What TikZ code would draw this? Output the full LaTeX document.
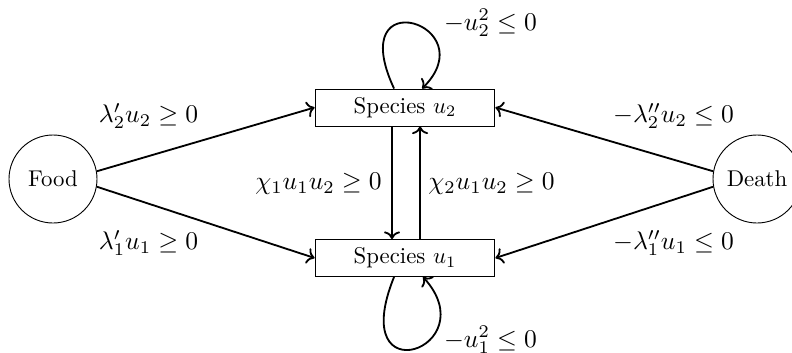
\documentclass[tikz,border=0pt]{standalone}
\usetikzlibrary{arrows.meta}
\begin{document}
\begin{tikzpicture}[x=0.4386pt,y=-0.4386pt,
  state/.style={draw,circle,minimum size=38.6pt,inner sep=0pt},
  species/.style={draw,rectangle,minimum width=78.9pt,minimum height=16.2pt,inner sep=0pt},
  flow/.style={->,thick},
  lbl/.style={inner sep=0pt,scale=1.12}]
\useasboundingbox (0,0) rectangle (792,352);
\node[state] (food) at (53,179) {Food};
\node[state] (death) at (757,179) {Death};
\node[species] (u2) at (405,107.5) {Species $u_2$};
\node[species] (u1) at (405,258) {Species $u_1$};
\draw[flow] (food.10) -- (u2.west);
\draw[flow] (food.-10) -- (u1.west);
\draw[flow] (death.170) -- (u2.east);
\draw[flow] (death.190) -- (u1.east);
\draw[flow] ([xshift=-5.7pt]u2.south) -- ([xshift=-5.7pt]u1.north);
\draw[flow] ([xshift=6.6pt]u1.north) -- ([xshift=6.6pt]u2.south);
\draw[flow] ([xshift=-4.8pt]u2.north) to[out=115,in=45,out distance=52.8pt,in distance=39.8pt] ([xshift=7.5pt]u2.north);
\draw[flow] ([xshift=-4.8pt]u1.south) to[out=-112,in=-48,out distance=57pt,in distance=42pt] ([xshift=7.9pt]u1.south);
\node[lbl] (l1) at (148.5,116) {$\lambda'_2 u_2 \geq 0$};
\node[lbl] (l2) at (148.5,243) {$\lambda'_1 u_1 \geq 0$};
\node[lbl] (l3) at (673.5,116) {$-\lambda''_2 u_2 \leq 0$};
\node[lbl] (l4) at (673.5,243) {$-\lambda''_1 u_1 \leq 0$};
\node[lbl] (l5) at (318.5,184) {$\chi_1 u_1 u_2 \geq 0$};
\node[lbl] (l6) at (491.5,184) {$\chi_2 u_1 u_2 \geq 0$};
\node[lbl] (l7) at (490.5,23) {$-u_2^2 \leq 0$};
\node[lbl] (l8) at (490.5,340) {$-u_1^2 \leq 0$};
\end{tikzpicture}
\end{document}
